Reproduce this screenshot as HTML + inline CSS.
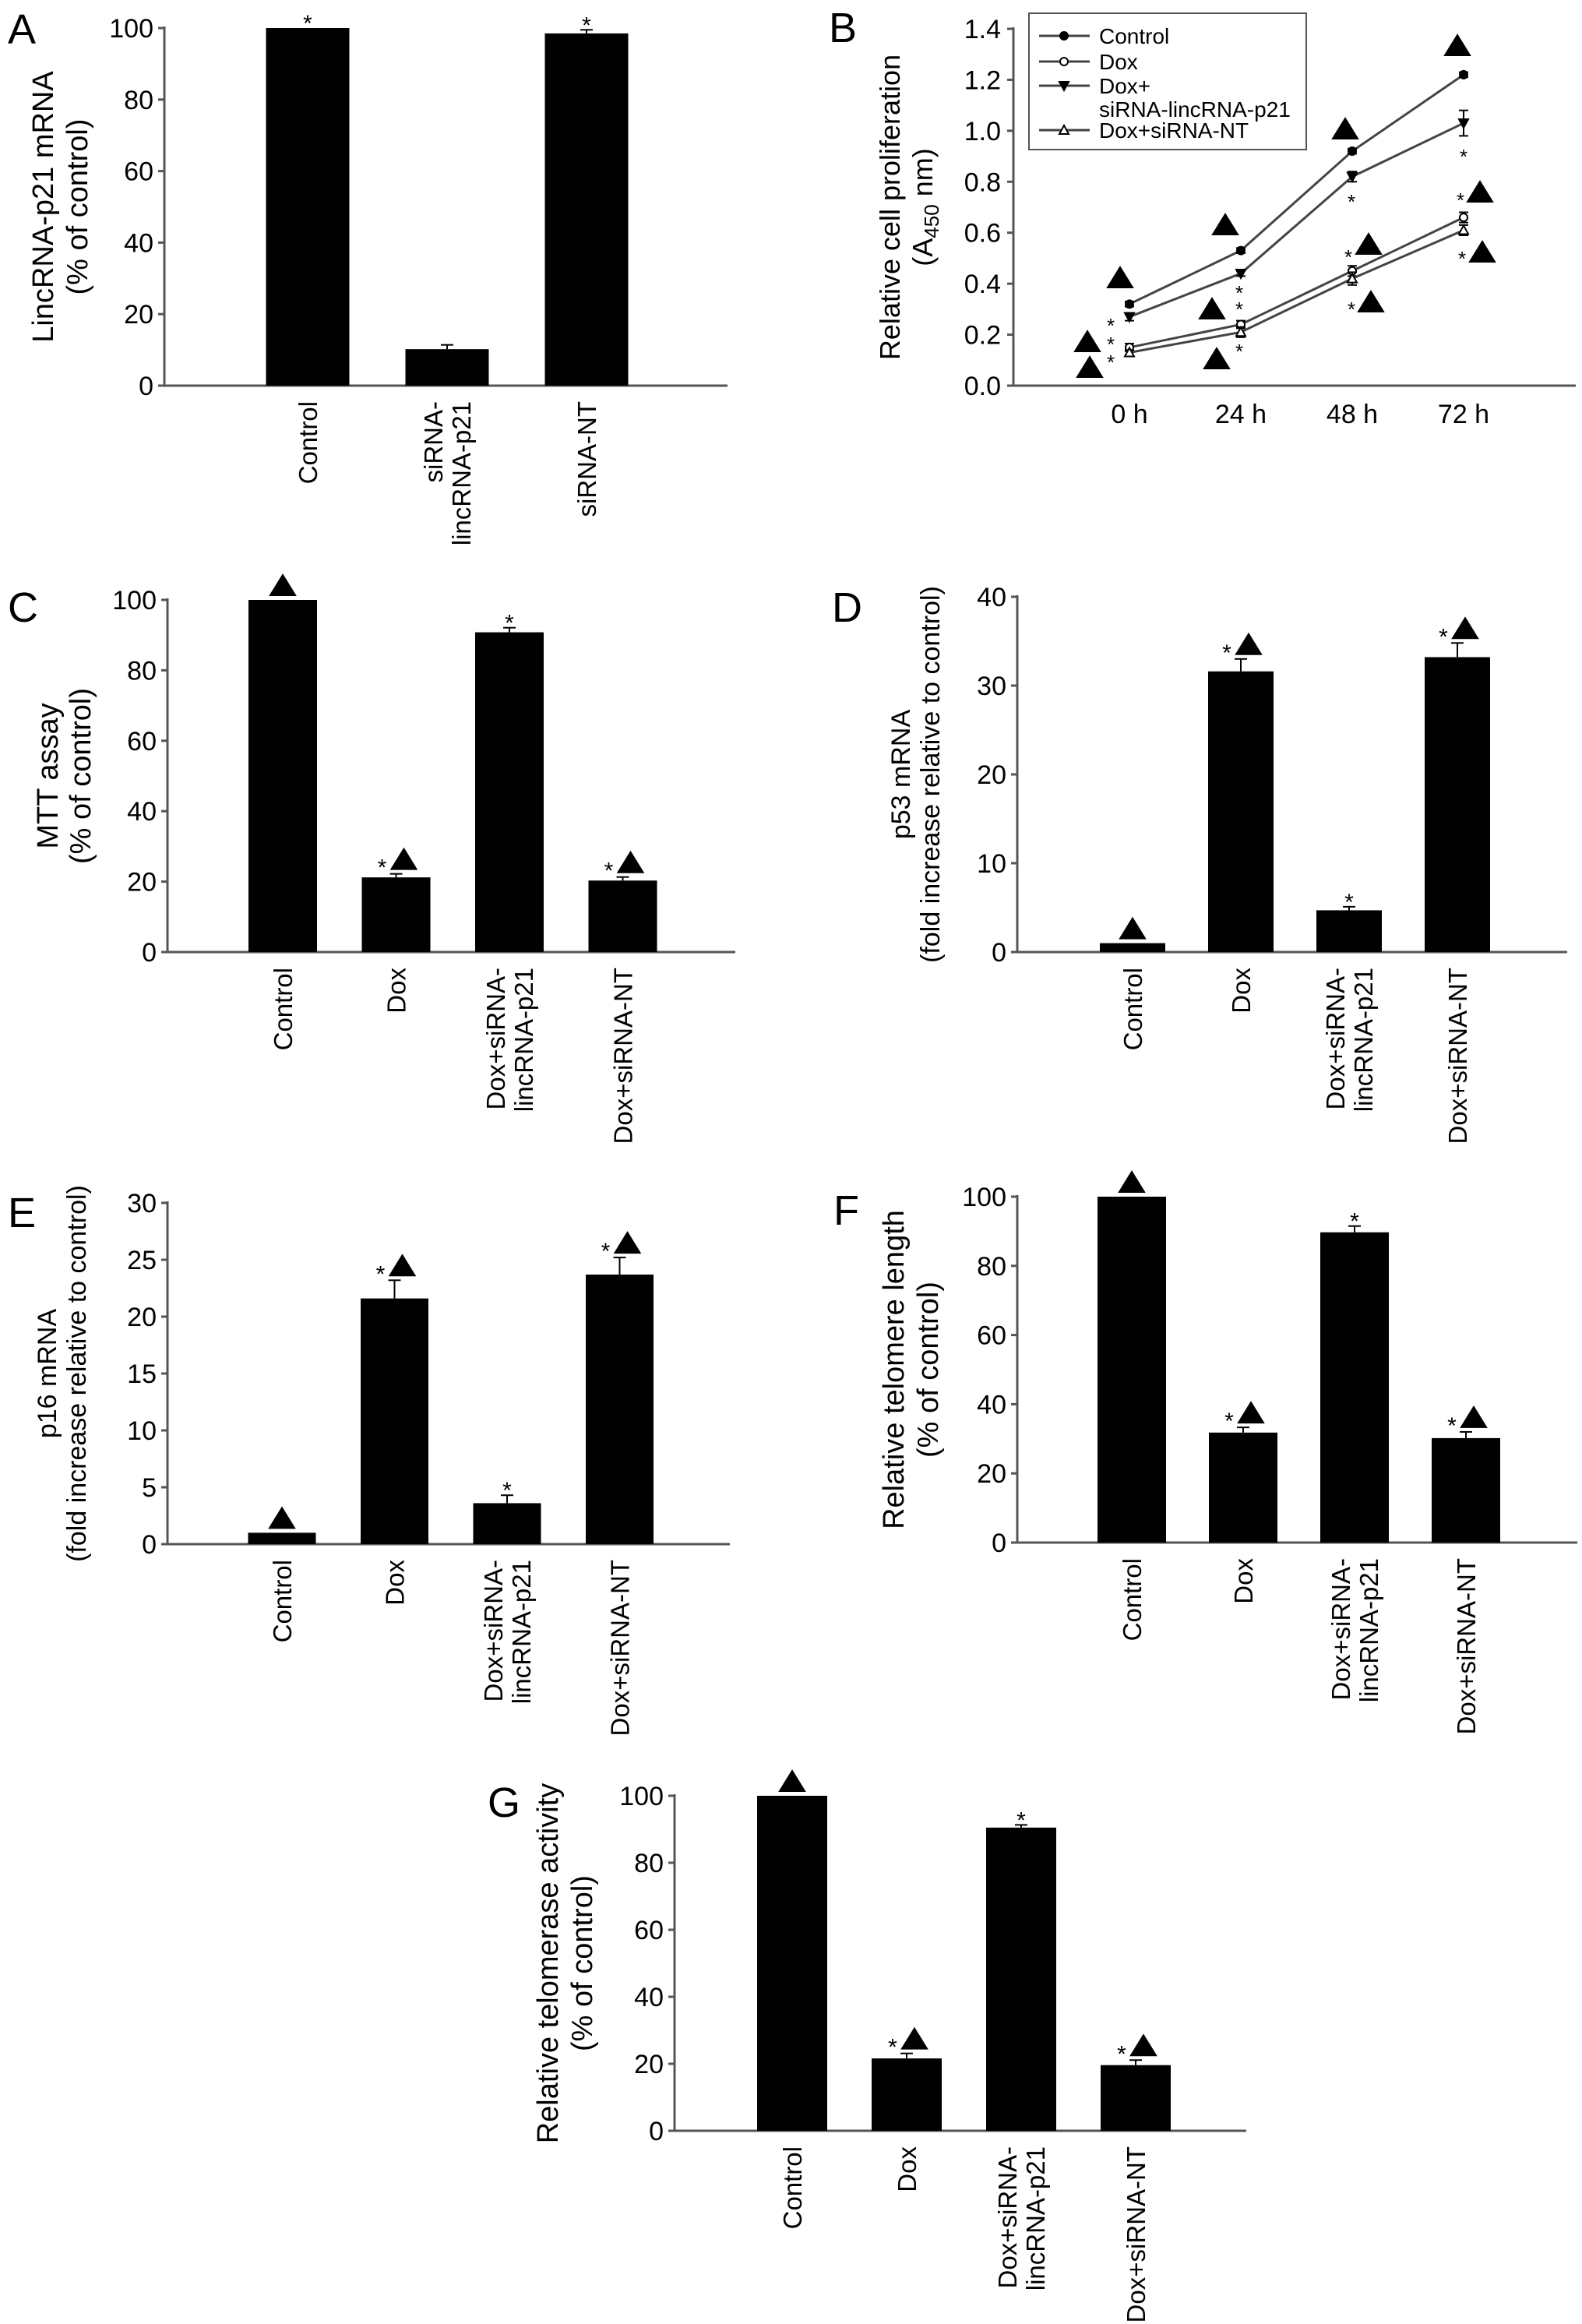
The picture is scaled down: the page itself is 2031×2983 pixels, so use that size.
<!DOCTYPE html>
<html><head><meta charset="utf-8"><style>
html,body{margin:0;padding:0;background:#fff}
svg{display:block;font-family:"Liberation Sans",Arial,sans-serif}
</style></head><body>
<svg id="fig" width="2031" height="2983" viewBox="0 0 2031 2983" xmlns="http://www.w3.org/2000/svg"></svg>
<script>
// ---------- data ----------
const catsA = [["Control"],["siRNA-","lincRNA-p21"],["siRNA-NT"]];
const valsA = [100, 10.2, 98.5];
const errA = [0, 1.2, 1.0];
const annA = ["star","none","star"];
const ticksA = [0,20,40,60,80,100];

const cats4 = [["Control"],["Dox"],["Dox+siRNA-","lincRNA-p21"],["Dox+siRNA-NT"]];
const valsC = [100, 21.2, 90.8, 20.3];
const errC = [0, 1.0, 1.3, 1.0];
const ticksC = [0,20,40,60,80,100];
const valsD = [1.0, 31.6, 4.7, 33.2];
const errD = [0, 1.4, 0.4, 1.6];
const ticksD = [0,10,20,30,40];
const valsE = [1.0, 21.6, 3.6, 23.7];
const errE = [0, 1.6, 0.7, 1.5];
const ticksE = [0,5,10,15,20,25,30];
const valsF = [100, 31.8, 89.7, 30.2];
const errF = [0, 1.5, 1.8, 1.8];
const ticksF = [0,20,40,60,80,100];
const valsG = [100, 21.6, 90.5, 19.6];
const errG = [0, 1.5, 0.8, 1.5];
const ticksG = [0,20,40,60,80,100];
const ann4 = ["tri","startri","star","startri"];

const timesB = ["0 h","24 h","48 h","72 h"];
const ctrlB = [0.32, 0.53, 0.92, 1.22];
const doxB = [0.15, 0.24, 0.45, 0.66];
const doxSiB = [0.27, 0.44, 0.82, 1.03];
const doxNtB = [0.13, 0.21, 0.42, 0.61];
const errCtrlB = [0.01, 0.01, 0.01, 0.01];
const errDoxB = [0.015, 0.015, 0.02, 0.02];
const errSiB = [0.015, 0.01, 0.02, 0.05];
const errNtB = [0.01, 0.02, 0.025, 0.02];
const ticksB = [0.0,0.2,0.4,0.6,0.8,1.0,1.2,1.4];

// ---------- helpers ----------
const NS = "http://www.w3.org/2000/svg";
const svg = document.getElementById("fig");
function mk(tag, attrs, parent){
  const e = document.createElementNS(NS, tag);
  for (const k in attrs) e.setAttribute(k, attrs[k]);
  (parent||svg).appendChild(e);
  return e;
}
function tri(g, cx, by, w, h, fill){
  return mk("polygon",{points:`${cx-w/2},${by} ${cx+w/2},${by} ${cx},${by-h}`,fill:fill||"#000",stroke:"#000","stroke-width":2},g);
}

function barPanel(o){
  const g = mk("g",{});
  
  
  const yMax = o.ticks[o.ticks.length-1];
  const y = v => o.y0 + (o.yTop - o.y0) * v / yMax;
  const L = mk("text",{x:o.lx,y:o.ly,"font-size":54},g); L.textContent=o.letter;
  
  
  const ya = mk("line",{x1:o.ax,y1:y(yMax)-2,x2:o.ax,y2:o.y0,stroke:"#555","stroke-width":3},g);
  
  
  const xa = mk("line",{x1:o.ax,y1:o.y0,x2:o.xEnd,y2:o.y0,stroke:"#555","stroke-width":3},g);
  
  
  o.ticks.forEach(t=>{
    mk("line",{x1:o.ax-8,y1:y(t),x2:o.ax,y2:y(t),stroke:"#555","stroke-width":3},g);
    const tl = mk("text",{x:o.ax-14,y:y(t)+12,"font-size":34,"text-anchor":"end"},g);
    tl.textContent = t;
    
    
  });
  const tc = (o.yTop + o.y0)/2;
  o.title.forEach((line,i)=>{
    const tx = o.titleX[i];
    const t = mk("text",{x:tx,y:tc,"font-size":o.titleSize,"text-anchor":"middle",transform:`rotate(-90 ${tx} ${tc})`},g);
    t.textContent = line;
    
    
  });
  o.vals.forEach((v,i)=>{
    const cx = o.first + i*o.step;
    const top = y(v);
    const b = mk("rect",{x:cx-o.bw/2,y:top,width:o.bw,height:o.y0-top,fill:"#000"},g);
    
    
    let eTop = top;
    if (o.err[i] > 0){
      eTop = y(v+o.err[i]);
      mk("line",{x1:cx,y1:top,x2:cx,y2:eTop,stroke:"#000","stroke-width":2},g);
      mk("line",{x1:cx-8,y1:eTop,x2:cx+8,y2:eTop,stroke:"#000","stroke-width":2},g);
    }
    const a = o.ann[i];
    if (a==="star"){
      const s = mk("text",{x:cx,y:eTop+4,"font-size":30,"text-anchor":"middle"},g); s.textContent="*";
      
      
    } else if (a==="tri"){
      const t = tri(g, cx, eTop-6, 32, 26);
      
      
    } else if (a==="startri"){
      const s = mk("text",{x:cx-18,y:eTop+2,"font-size":30,"text-anchor":"middle"},g); s.textContent="*";
      
      
      const t = tri(g, cx+10, eTop-6, 32, 26);
      
      
    }
    const lines = o.cats[i];
    lines.forEach((ln,j)=>{
      const lx = cx + (j - (lines.length-1)/2)*36 + 12;
      const ly = o.y0 + 20;
      const c = mk("text",{x:lx,y:ly,"font-size":33,"text-anchor":"end",transform:`rotate(-90 ${lx} ${ly})`},g);
      c.textContent = ln;
      
      
    });
  });
}

barPanel({name:"panel-a",letter:"A",lx:10,ly:56,ax:211,xEnd:934,yTop:36,y0:495,ticks:ticksA,vals:valsA,err:errA,ann:annA,cats:catsA,first:395,step:179,bw:107,title:["LincRNA-p21 mRNA","(% of control)"],titleX:[68,112],titleSize:38});
barPanel({name:"panel-c",letter:"C",lx:10,ly:798,ax:215,xEnd:944,yTop:770,y0:1222,ticks:ticksC,vals:valsC,err:errC,ann:ann4,cats:cats4,first:363,step:145.5,bw:88,title:["MTT assay","(% of control)"],titleX:[74,116],titleSize:38});
barPanel({name:"panel-d",letter:"D",lx:1068,ly:798,ax:1306,xEnd:2012,yTop:766,y0:1222,ticks:ticksD,vals:valsD,err:errD,ann:ann4,cats:cats4,first:1454,step:139,bw:84,title:["p53 mRNA","(fold increase relative to control)"],titleX:[1168,1206],titleSize:34});
barPanel({name:"panel-e",letter:"E",lx:10,ly:1575,ax:215,xEnd:937,yTop:1544,y0:1982,ticks:ticksE,vals:valsE,err:errE,ann:ann4,cats:cats4,first:362,step:144.5,bw:87,title:["p16 mRNA","(fold increase relative to control)"],titleX:[72,110],titleSize:34});
barPanel({name:"panel-f",letter:"F",lx:1070,ly:1572,ax:1306,xEnd:2025,yTop:1536,y0:1980,ticks:ticksF,vals:valsF,err:errF,ann:ann4,cats:cats4,first:1453,step:143,bw:88,title:["Relative telomere length","(% of control)"],titleX:[1160,1204],titleSize:38});
barPanel({name:"panel-g",letter:"G",lx:626,ly:2332,ax:866,xEnd:1600,yTop:2305,y0:2735,ticks:ticksG,vals:valsG,err:errG,ann:ann4,cats:cats4,first:1017,step:147,bw:90,title:["Relative telomerase activity","(% of control)"],titleX:[716,760],titleSize:38});

// ---------- panel B line chart ----------
(function(){
  const g = mk("g",{});
  
  
  const ax=1301, xEnd=2023, yTop=37, y0=495, yMax=1.4;
  const y = v => y0 + (yTop-y0)*v/yMax;
  const x = i => 1450 + i*143;
  const L = mk("text",{x:1064,y:54,"font-size":54},g); L.textContent="B";
  
  
  const ya = mk("line",{x1:ax,y1:yTop-2,x2:ax,y2:y0,stroke:"#555","stroke-width":3},g);
  
  
  const xa = mk("line",{x1:ax,y1:y0,x2:xEnd,y2:y0,stroke:"#555","stroke-width":3},g);
  
  
  ticksB.forEach(t=>{
    mk("line",{x1:ax-8,y1:y(t),x2:ax,y2:y(t),stroke:"#555","stroke-width":3},g);
    const tl = mk("text",{x:ax-16,y:y(t)+12,"font-size":34,"text-anchor":"end"},g);
    tl.textContent = t.toFixed(1);
    
    
  });
  timesB.forEach((t,i)=>{
    const tl = mk("text",{x:x(i),y:543,"font-size":34,"text-anchor":"middle"},g);
    tl.textContent = t;
    
    
  });
  const tc=(yTop+y0)/2;
  const t1 = mk("text",{x:1155,y:tc,"font-size":36,"text-anchor":"middle",transform:`rotate(-90 1155 ${tc})`},g);
  t1.textContent="Relative cell proliferation";
  
  
  const t2 = mk("text",{x:1197,y:tc,"font-size":36,"text-anchor":"middle",transform:`rotate(-90 1197 ${tc})`},g);
  t2.innerHTML='(A<tspan font-size="26" dy="8">450</tspan><tspan dy="-8"> nm)</tspan>';
  
  

  function marker(kind, cx, cy, parent){
    if (kind==="fc") return mk("circle",{cx:cx,cy:cy,r:5,fill:"#000",stroke:"#000","stroke-width":2},parent);
    if (kind==="oc") return mk("circle",{cx:cx,cy:cy,r:5,fill:"#fff",stroke:"#000","stroke-width":2},parent);
    if (kind==="dt") return mk("polygon",{points:`${cx-6},${cy-5} ${cx+6},${cy-5} ${cx},${cy+6}`,fill:"#000",stroke:"#000","stroke-width":2},parent);
    return mk("polygon",{points:`${cx-6},${cy+5} ${cx+6},${cy+5} ${cx},${cy-6}`,fill:"#fff",stroke:"#000","stroke-width":2},parent);
  }
  const series = [
    {n:"control",v:ctrlB,e:errCtrlB,m:"fc"},
    {n:"dox",v:doxB,e:errDoxB,m:"oc"},
    {n:"dox-sirna-lincrna-p21",v:doxSiB,e:errSiB,m:"dt"},
    {n:"dox-sirna-nt",v:doxNtB,e:errNtB,m:"ut"}
  ];
  series.forEach(s=>{
    const sg = mk("g",{},g);
    
    
    const pl = mk("polyline",{points:s.v.map((v,i)=>x(i)+","+y(v)).join(" "),fill:"none",stroke:"#444","stroke-width":3},sg);
    
    
    s.v.forEach((v,i)=>{
      mk("line",{x1:x(i),y1:y(v+s.e[i]),x2:x(i),y2:y(v-s.e[i]),stroke:"#000","stroke-width":2},sg);
      mk("line",{x1:x(i)-6,y1:y(v+s.e[i]),x2:x(i)+6,y2:y(v+s.e[i]),stroke:"#000","stroke-width":2},sg);
      mk("line",{x1:x(i)-6,y1:y(v-s.e[i]),x2:x(i)+6,y2:y(v-s.e[i]),stroke:"#000","stroke-width":2},sg);
      const p = marker(s.m, x(i), y(v), sg);
      
      
    });
  });
  const triPos = [[1396,438],[1399,471],[1438,356],[1573,288],[1556,396],[1562,460],[1727,165],[1757,313],[1760,387],[1871,58],[1900,246],[1903,323]];
  triPos.forEach(p=>{
    const t = tri(g, p[0], p[1]+13, 32, 26);
    
    
  });
  const starPos = [[1426,413],[1426,437],[1426,460],[1591,371],[1591,392],[1591,446],[1735,254],[1731,325],[1735,392],[1879,196],[1875,252],[1877,327]];
  starPos.forEach(p=>{
    const s = mk("text",{x:p[0],y:p[1]+14,"font-size":26,"text-anchor":"middle"},g); s.textContent="*";
    
    
  });
  const lg = mk("g",{},g);
  
  
  mk("rect",{x:1321,y:17,width:356,height:175,fill:"#fff",stroke:"#555","stroke-width":2},lg);
  const entries = [["fc",["Control"],46],["oc",["Dox"],79],["dt",["Dox+","siRNA-lincRNA-p21"],110],["ut",["Dox+siRNA-NT"],167]];
  entries.forEach(en=>{
    const eg = mk("g",{},lg);
    
    
    mk("line",{x1:1334,y1:en[2],x2:1399,y2:en[2],stroke:"#444","stroke-width":3},eg);
    marker(en[0],1366,en[2],eg);
    en[1].forEach((ln,j)=>{
      const t = mk("text",{x:1411,y:en[2]+10+j*30,"font-size":28},eg);
      t.textContent = ln;
    });
  });
})();
</script>
</body></html>
